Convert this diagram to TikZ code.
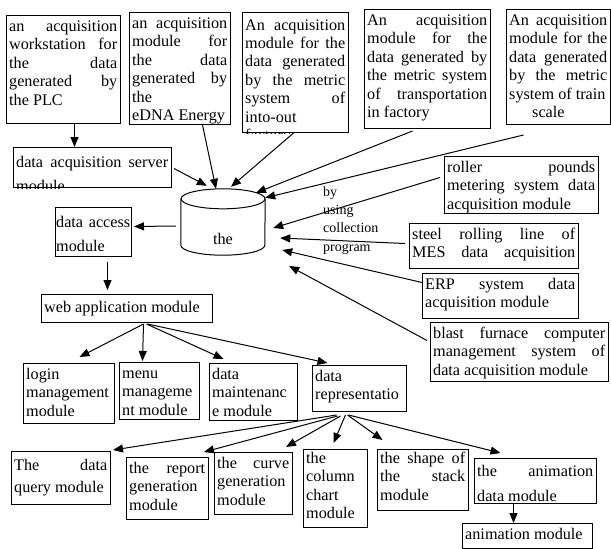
\documentclass[tikz,border=0pt]{standalone}
\usepackage{fontspec}
\setmainfont{Liberation Serif}
\usetikzlibrary{arrows.meta,calc}
\hyphenpenalty=10000
\exhyphenpenalty=10000
\tolerance=10000
\hbadness=10000
\hfuzz=5pt
\newcommand\pad{3}
\tikzset{
  box/.style={draw, line width=1pt, inner sep=0pt},
  txt/.style={font=\fontsize{16.2}{18.4}\selectfont, align=justify, inner ysep=3.5pt},
  arr/.style={line width=1pt, -{Triangle[length=10pt,width=8pt]}},
}
\newcommand\tbox[7][]{%
  \node[box, anchor=north west, minimum width={#5-#3}, minimum height={#6-#4}] (#2) at (#3,#4) {};
  \pgfmathsetlengthmacro\tbw{#5-#3-2*\pad}%
  \begin{scope}
    \clip (#2.south west) rectangle (#2.north east);
    \node[txt, anchor=north west, text width=\tbw, inner xsep=\pad pt, #1] at (#2.north west) {\strut #7};
  \end{scope}}
\begin{document}
\begin{tikzpicture}[x=1pt,y=-1pt]
\fill[white] (0,0) rectangle (611,549);
\useasboundingbox (0,0) rectangle (611,549);

% top row
\tbox{plc}{6}{15}{120}{123}{an acquisition\linebreak workstation for\linebreak the data\linebreak generated by\linebreak the PLC}
\tbox{edna}{129}{12}{230}{124}{an acquisition\linebreak module for\linebreak the data\linebreak generated by\linebreak the\linebreak eDNA Energy}
\tbox[yshift=-1.5pt]{inout}{242}{12}{348}{132}{An acquisition\linebreak module for the\linebreak data generated\linebreak by the metric\linebreak system of\linebreak into-out\linebreak factory}
\tbox{transp}{364}{9}{490}{128}{An acquisition\linebreak module for the\linebreak data generated by\linebreak the metric system\linebreak of transportation\linebreak in factory}
\tbox{train}{506}{9}{610}{124}{An acquisition\linebreak module for the\linebreak data generated\linebreak by the metric\linebreak system of train\\\hspace*{23pt}scale}

% server / db / access
\tbox[font=\fontsize{16.2}{24}\selectfont]{srv}{13}{147}{171}{187}{data acquisition server\linebreak module}
\node[inner sep=0pt, minimum width=84, minimum height=66] (db) at (223,222) {};
\draw[line width=1pt] ($(db.north)+(0,10)$) ellipse [x radius=42pt, y radius=10pt];
\draw[line width=1pt] ($(db.north west)+(0,10)$) -- ($(db.south west)+(0,-10)$)
   arc[start angle=180, end angle=360, x radius=42pt, y radius=10pt] -- ($(db.north east)+(0,10)$);
\node[font=\fontsize{16.2}{18.4}\selectfont, inner sep=0pt, anchor=base] (dblabel) at (223,244) {the};
{\renewcommand\pad{1}%
\tbox[font=\fontsize{16.2}{24}\selectfont]{access}{55}{207}{131}{256}{data access\linebreak module}}
\node[anchor=north west, inner sep=0pt, align=left, font=\fontsize{14}{18.4}\selectfont] (note) at (323,183) {\strut by\\using\\collection\\program};

% right boxes
\tbox{roller}{444}{156}{598}{213}{roller pounds\linebreak metering system data\linebreak acquisition module}
\tbox{steel}{409}{223}{578}{268}{steel rolling line of\linebreak MES data acquisition\linebreak\hbox{}}
\tbox{erp}{422}{273}{578}{318}{ERP system data\linebreak acquisition module}
\tbox{blast}{430}{322}{608}{381}{blast furnace computer\linebreak management system of\linebreak data acquisition module}

% web level
\tbox[yshift=-2pt]{web}{41}{294}{212}{322}{web application module}
\tbox{login}{23}{363}{114}{423}{login\linebreak management\linebreak module}
\tbox{menu}{119}{362}{199}{419}{menu\linebreak manageme\linebreak nt module}
\tbox{maint}{209}{363}{297}{420}{data\linebreak maintenanc\linebreak e module}
\tbox{repr}{312}{365}{406}{411}{data\linebreak representatio}

% bottom row
\tbox[font=\fontsize{16.2}{22}\selectfont]{query}{11}{451}{110}{504}{The data\linebreak query module}
\tbox{report}{126}{457}{208}{519}{the report\linebreak generation\linebreak module}
\tbox{curve}{214}{452}{292}{514}{the curve\linebreak generation\linebreak module}
\tbox[yshift=2pt]{column}{303}{449}{367}{527}{the\linebreak column\linebreak chart\linebreak module}
\tbox[yshift=2pt]{stack}{377}{449}{468}{510}{the shape of\linebreak the stack\linebreak module}
\tbox[font=\fontsize{16.2}{25}\selectfont, yshift=3pt]{animd}{474}{458}{596}{503}{the animation\linebreak data module}
\tbox{animm}{462}{523}{592}{548}{animation module}

% connectors
\draw[arr] ($(plc.south)+(11,0)$) -- ($(srv.north)+(-18,0)$);
\draw[arr] ($(edna.south)+(22.5,0)$) -- ($(db.north)+(-7,0)$);
\draw[arr] ($(inout.south)+(-2,0)$) -- ($(db.north)+(8,-2)$);
\draw[arr] ($(transp.south)+(-15,2)$) -- ($(db.north)+(33,4)$);
\draw[arr] ($(train.south)+(-35,10)$) -- ($(db.north east)+(0,9)$);
\draw[arr] ($(roller.west)+(-4,-7.5)$) -- ($(db.east)+(8,6)$);
\draw[arr] ($(steel.west)+(-4,-2.5)$) -- ($(db.east)+(15,16)$);
\draw[arr] ($(erp.west)+(0,-13.5)$) -- ($(db.east)+(17,28)$);
\draw[arr] ($(blast.west)+(-3,-11.5)$) -- ($(db.east)+(24,44)$);
\draw[arr] ($(srv.east)+(2,1)$) -- ($(db.north west)+(26,-3)$);
\draw[arr] ($(db.west)+(-5,4)$) -- ($(access.east)+(2,-5.5)$);
\draw[arr] ($(access.south)+(14,5)$) -- ($(web.north)+(-19.5,-4)$);
\draw[arr] ($(web.south)+(16.5,1)$) -- ($(login.north)+(10.5,-6)$);
\draw[arr] ($(web.south)+(16.5,1)$) -- ($(menu.north)+(-17,-1)$);
\draw[arr] ($(web.south)+(19.5,1)$) -- ($(maint.north)+(-30,-4)$);
\draw[arr] ($(web.south)+(20.5,1)$) -- ($(repr.north)+(-32,-2)$);
\draw[arr] ($(repr.south)+(-23,3)$) -- ($(query.north east)+(2,-1)$);
\draw[arr] ($(repr.south)+(-22,4)$) -- ($(report.north east)+(-5,-5)$);
\draw[arr] ($(repr.south)+(-19,4)$) -- ($(curve.north east)+(-7,-5)$);
\draw[arr] ($(repr.south)+(-14,3)$) -- ($(column.north)+(-2,-6)$);
\draw[arr] ($(repr.south)+(-12,3)$) -- ($(stack.north)+(-40.5,-9)$);
\draw[arr] ($(repr.south)+(-11,3)$) -- ($(animd.north)+(-35,-5)$);
\draw[arr] ($(animd.south)+(-22,0)$) -- ($(animm.north)+(-14,0)$);
\end{tikzpicture}
\end{document}
